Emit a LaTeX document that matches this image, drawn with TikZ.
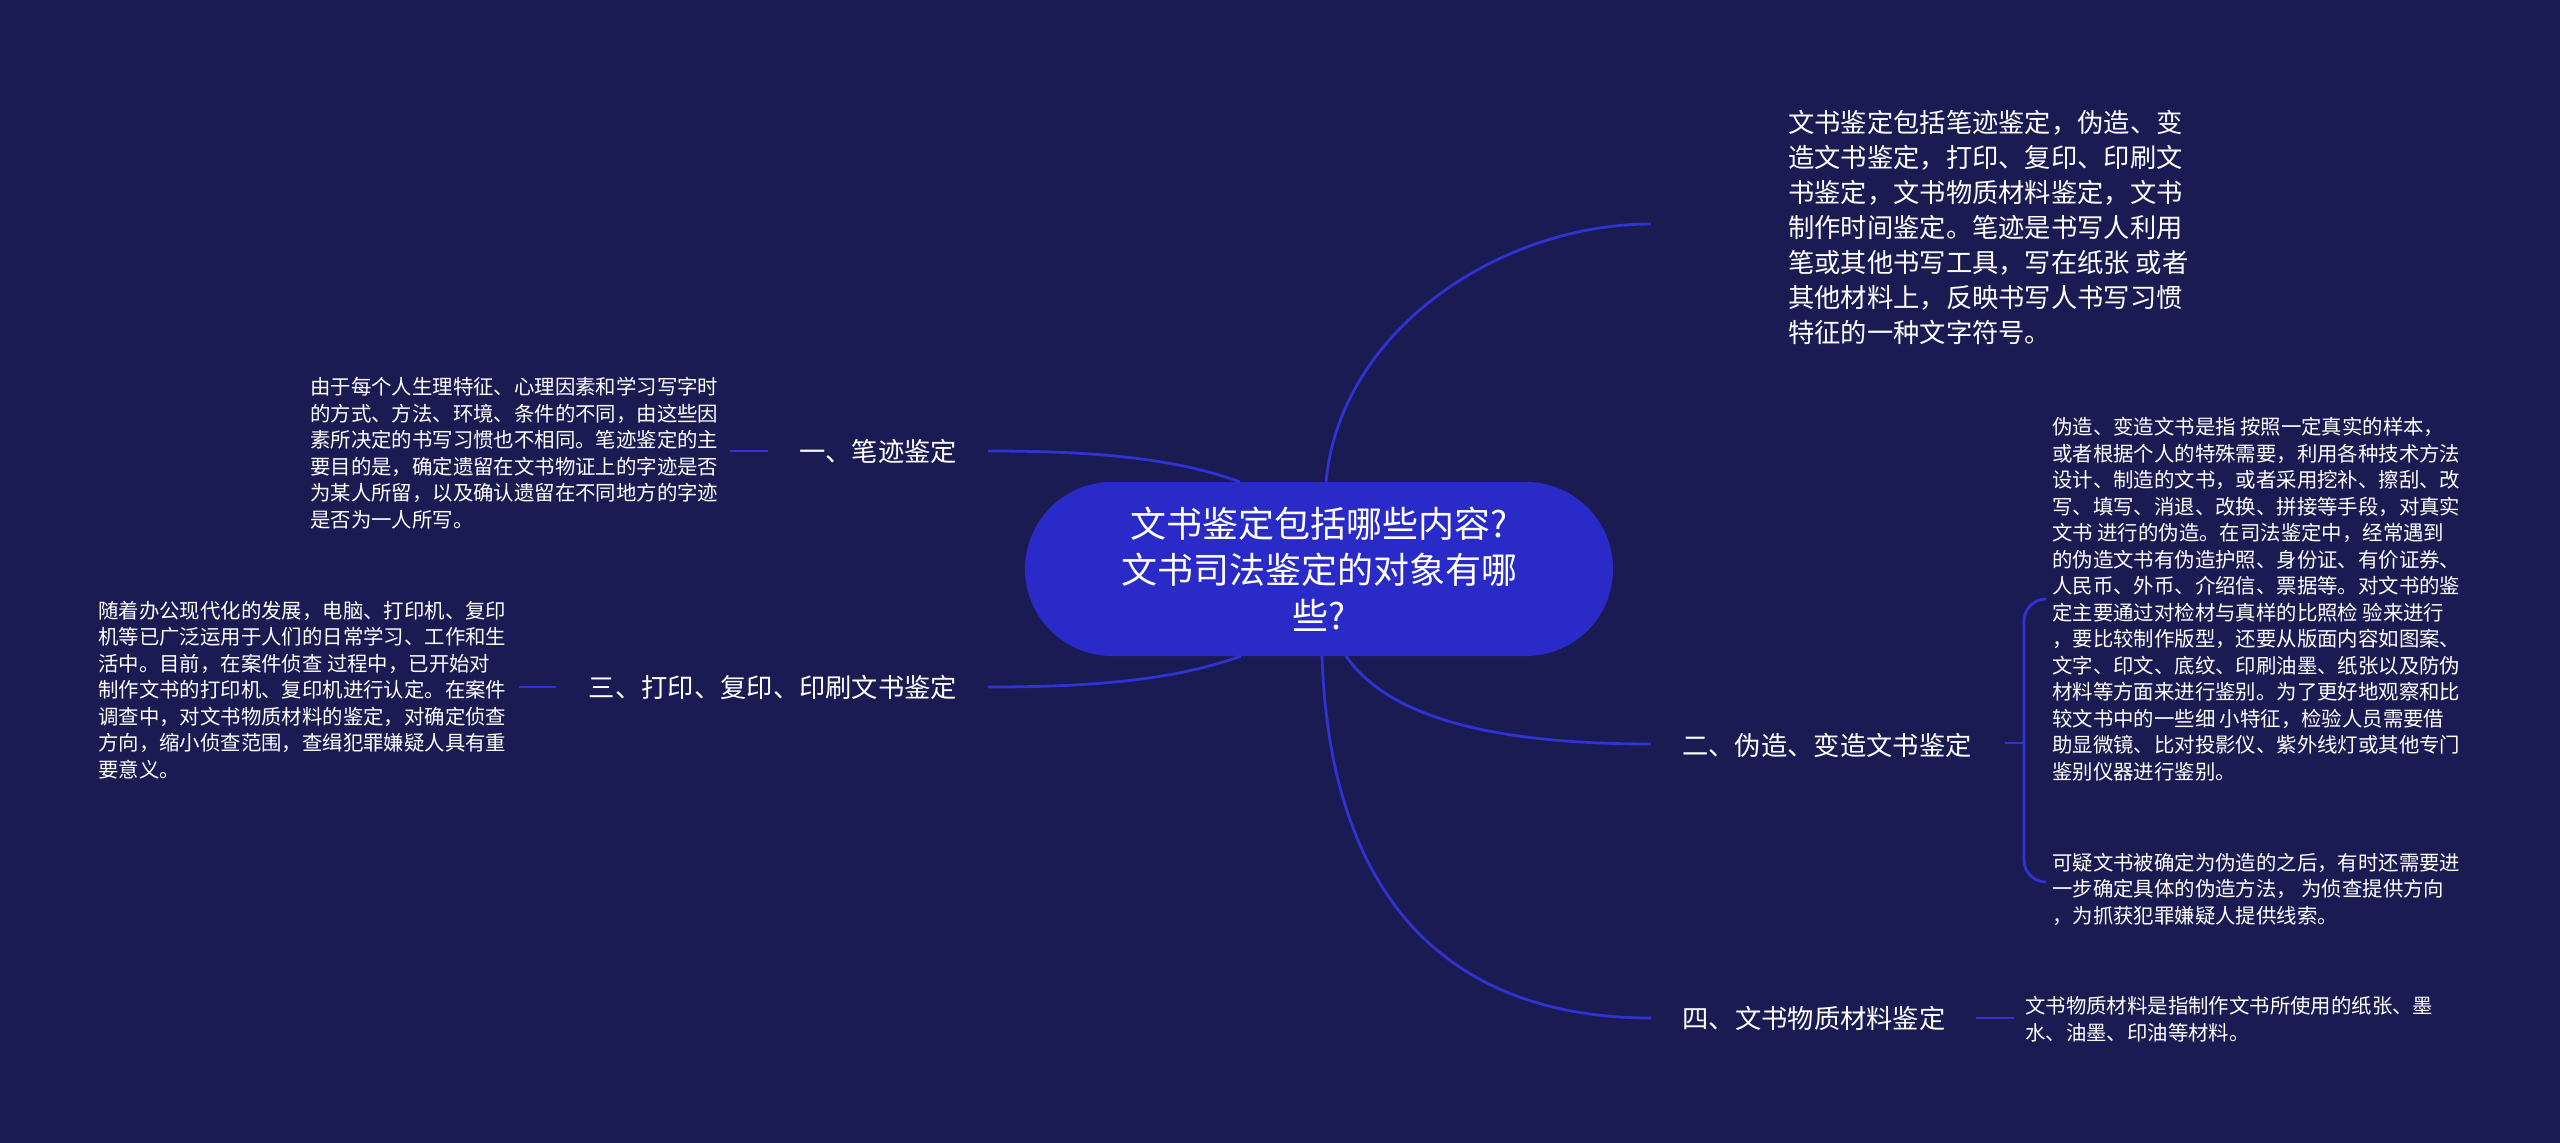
\documentclass[tikz,border=0pt]{standalone}
\usepackage{fontspec}
\setmainfont{Noto Sans CJK SC}
\usetikzlibrary{shapes.misc}
\definecolor{bgc}{RGB}{27,27,84}
\definecolor{nodec}{RGB}{42,42,200}
\definecolor{linec}{RGB}{50,50,210}
\begin{document}
\begin{tikzpicture}[x=1pt,y=-1pt,
  conn/.style={draw=linec,line width=2.8pt},
  smalltxt/.style={inner sep=0pt,anchor=west,align=left,text=white,font=\fontsize{20.4}{26.5}\selectfont},
  bigtxt/.style={inner sep=0pt,anchor=west,align=left,text=white,font=\fontsize{26.3}{35}\selectfont},
  lbl/.style={inner sep=0pt,text=white,font=\fontsize{26.3}{32}\selectfont},
  hub/.style={rounded rectangle,fill=nodec,minimum width=588pt,minimum height=174pt,inner sep=0pt,align=center,text=white,font=\fontsize{36}{46}\selectfont}]
\fill[bgc] (0,0) rectangle (2560,1143);
\useasboundingbox (0,0) rectangle (2560,1143);

% central topic
\node[hub] (c) at (1319,569) {文书鉴定包括哪些内容?\\文书司法鉴定的对象有哪\\些?};

% top-right description
\node[bigtxt] (t0) at (1788,227) {文书鉴定包括笔迹鉴定，伪造、变\\造文书鉴定，打印、复印、印刷文\\书鉴定，文书物质材料鉴定，文书\\制作时间鉴定。笔迹是书写人利用\\笔或其他书写工具，写在纸张 或者\\其他材料上，反映书写人书写习惯\\特征的一种文字符号。};

% branch labels
\node[lbl] (l1) at (878,451) {一、笔迹鉴定};
\node[lbl] (l3) at (773,687) {三、打印、复印、印刷文书鉴定};
\node[lbl] (l2) at (1827,745) {二、伪造、变造文书鉴定};
\node[lbl] (l4) at (1814,1018) {四、文书物质材料鉴定};

% leaf texts
\node[smalltxt] (d1) at (310,453) {由于每个人生理特征、心理因素和学习写字时\\的方式、方法、环境、条件的不同，由这些因\\素所决定的书写习惯也不相同。笔迹鉴定的主\\要目的是，确定遗留在文书物证上的字迹是否\\为某人所留，以及确认遗留在不同地方的字迹\\是否为一人所写。};
\node[smalltxt] (d3) at (98,690) {随着办公现代化的发展，电脑、打印机、复印\\机等已广泛运用于人们的日常学习、工作和生\\活中。目前，在案件侦查 过程中，已开始对\\制作文书的打印机、复印机进行认定。在案件\\调查中，对文书物质材料的鉴定，对确定侦查\\方向，缩小侦查范围，查缉犯罪嫌疑人具有重\\要意义。};
\node[smalltxt] (d2a) at (2052,599) {伪造、变造文书是指 按照一定真实的样本，\\或者根据个人的特殊需要，利用各种技术方法\\设计、制造的文书，或者采用挖补、擦刮、改\\写、填写、消退、改换、拼接等手段，对真实\\文书 进行的伪造。在司法鉴定中，经常遇到\\的伪造文书有伪造护照、身份证、有价证券、\\人民币、外币、介绍信、票据等。对文书的鉴\\定主要通过对检材与真样的比照检 验来进行\\，要比较制作版型，还要从版面内容如图案、\\文字、印文、底纹、印刷油墨、纸张以及防伪\\材料等方面来进行鉴别。为了更好地观察和比\\较文书中的一些细 小特征，检验人员需要借\\助显微镜、比对投影仪、紫外线灯或其他专门\\鉴别仪器进行鉴别。};
\node[smalltxt] (d2b) at (2052,889) {可疑文书被确定为伪造的之后，有时还需要进\\一步确定具体的伪造方法， 为侦查提供方向\\，为抓获犯罪嫌疑人提供线索。};
\node[smalltxt] (d4) at (2025,1019) {文书物质材料是指制作文书所使用的纸张、墨\\水、油墨、印油等材料。};

% attachment coordinates
\coordinate (cT) at (1326,482);
\coordinate (cTL) at (1240,482);
\coordinate (cBL) at (1241,656);
\coordinate (cBR) at (1346,656);
\coordinate (cB) at (1322,656);
\coordinate (t0w) at (1651,224);
\coordinate (l1e) at (988,451);
\coordinate (l3e) at (988,687);
\coordinate (l2w) at (1651,744);
\coordinate (l4w) at (1651,1018);

% main connectors
\draw[conn] (cT) .. controls (1340,330) and (1500,224) .. (t0w);
\draw[conn] (cTL) .. controls (1170,456) and (1080,451) .. (l1e);
\draw[conn] (cBL) .. controls (1170,682) and (1080,687) .. (l3e);
\draw[conn] (cBR) .. controls (1390,720) and (1500,744) .. (l2w);
\draw[conn] (cB) .. controls (1330,900) and (1450,1018) .. (l4w);

% stubs to leaves
\coordinate (s1a) at (768,451); \coordinate (s1b) at (730,451);
\draw[conn] (s1a) -- (s1b);
\coordinate (s3a) at (556,687); \coordinate (s3b) at (519,687);
\draw[conn] (s3a) -- (s3b);
\coordinate (s4a) at (1976,1018); \coordinate (s4b) at (2014,1018);
\draw[conn] (s4a) -- (s4b);
\coordinate (s2a) at (2005,743); \coordinate (s2j) at (2024,743);
\coordinate (s2t) at (2044,599); \coordinate (s2b) at (2044,882);
\draw[conn] (s2a) -- (s2j);
\draw[conn,rounded corners=22pt] (s2j) |- (s2t);
\draw[conn,rounded corners=22pt] (s2j) |- (s2b);
\end{tikzpicture}
\end{document}
